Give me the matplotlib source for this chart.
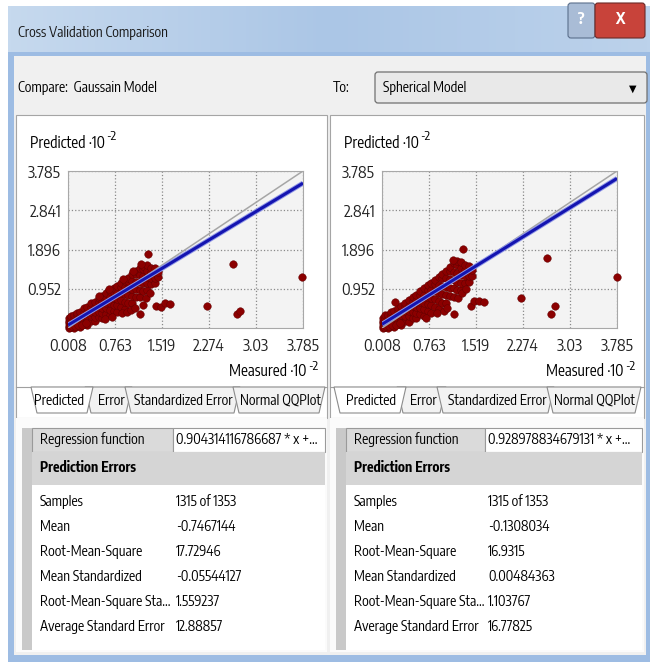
import matplotlib.pyplot as plt
from matplotlib.patches import Rectangle, Polygon, FancyBboxPatch
from matplotlib.colors import LinearSegmentedColormap
import numpy as np

plt.rcParams['font.family'] = ['Encode Sans Condensed', 'DejaVu Sans']

# ---- data (units of 10^-2) ----
x_ticks = [0.008, 0.763, 1.519, 2.274, 3.03, 3.785]
x_tick_labels = ["0.008", "0.763", "1.519", "2.274", "3.03", "3.785"]
y_ticks = [0.952, 1.896, 2.841, 3.785]
y_tick_labels = ["0.952", "1.896", "2.841", "3.785"]

# dense cloud, read column by column: (measured, [predicted...])
gauss_cols = [
    (0.02, [0.01, 0.06, 0.12, 0.18, 0.24]),
    (0.06, [0.04, 0.10, 0.17, 0.24, 0.30]),
    (0.10, [0.02, 0.09, 0.16, 0.24, 0.32]),
    (0.15, [0.06, 0.14, 0.22, 0.31, 0.38]),
    (0.20, [0.03, 0.12, 0.21, 0.30, 0.40]),
    (0.26, [0.10, 0.20, 0.30, 0.40, 0.48]),
    (0.32, [0.09, 0.19, 0.29, 0.40, 0.52]),
    (0.38, [0.18, 0.29, 0.40, 0.52, 0.60]),
    (0.44, [0.17, 0.28, 0.39, 0.51, 0.64]),
    (0.50, [0.27, 0.39, 0.51, 0.63, 0.72]),
    (0.56, [0.25, 0.37, 0.50, 0.63, 0.77]),
    (0.62, [0.34, 0.48, 0.62, 0.76, 0.84]),
    (0.68, [0.31, 0.45, 0.60, 0.75, 0.90]),
    (0.74, [0.42, 0.57, 0.72, 0.88, 0.97]),
    (0.80, [0.39, 0.55, 0.70, 0.86, 1.02]),
    (0.86, [0.51, 0.68, 0.84, 1.00, 1.09]),
    (0.92, [0.47, 0.64, 0.82, 0.99, 1.13]),
    (0.98, [0.61, 0.79, 0.97, 1.14, 1.22]),
    (1.04, [0.60, 0.77, 0.95, 1.13, 1.31]),
    (1.10, [0.75, 0.94, 1.12, 1.30, 1.39]),
    (1.16, [0.75, 0.93, 1.11, 1.29, 1.45]),
    (1.22, [0.91, 1.09, 1.26, 1.42, 1.50]),
    (1.28, [0.92, 1.08, 1.24, 1.38, 1.52]),
    (1.34, [1.07, 1.21, 1.35, 1.46]),
    (1.40, [1.10, 1.22, 1.34, 1.44]),
    (1.45, [1.24, 1.36]),
]
gauss_extra = [(0.04, 0.03), (0.08, 0.05), (0.12, 0.06), (0.17, 0.08), (0.23, 0.08),
               (0.29, 0.13), (0.60, 0.22), (0.72, 0.28), (0.88, 0.36), (0.95, 0.40),
               (1.02, 0.44), (1.08, 0.50), (1.16, 0.35), (1.21, 0.56), (1.26, 0.72),
               (1.32, 0.86), (0.50, 0.78), (0.66, 0.95), (0.90, 1.18), (1.05, 1.38),
               (1.18, 1.55), (1.294, 1.781), (1.428, 0.543), (1.503, 0.503),
               (1.573, 0.607), (1.653, 0.591), (2.242, 0.543), (2.66, 1.549),
               (2.73, 0.351), (2.778, 0.415), (3.77, 1.246)]

sph_cols = [
    (0.02, [0.01, 0.06, 0.12, 0.18, 0.25]),
    (0.06, [0.04, 0.10, 0.17, 0.24, 0.31]),
    (0.10, [0.02, 0.09, 0.16, 0.24, 0.33]),
    (0.15, [0.06, 0.14, 0.23, 0.32, 0.39]),
    (0.20, [0.03, 0.12, 0.22, 0.32, 0.42]),
    (0.26, [0.10, 0.21, 0.31, 0.42, 0.50]),
    (0.32, [0.09, 0.20, 0.31, 0.42, 0.54]),
    (0.38, [0.18, 0.30, 0.42, 0.54, 0.62]),
    (0.44, [0.16, 0.29, 0.41, 0.54, 0.67]),
    (0.50, [0.26, 0.40, 0.53, 0.66, 0.75]),
    (0.56, [0.24, 0.38, 0.52, 0.66, 0.81]),
    (0.62, [0.34, 0.49, 0.64, 0.80, 0.89]),
    (0.68, [0.30, 0.46, 0.62, 0.79, 0.96]),
    (0.74, [0.42, 0.59, 0.76, 0.93, 1.04]),
    (0.80, [0.38, 0.56, 0.74, 0.92, 1.10]),
    (0.86, [0.51, 0.70, 0.89, 1.07, 1.17]),
    (0.92, [0.47, 0.66, 0.86, 1.05, 1.23]),
    (0.98, [0.62, 0.82, 1.02, 1.21, 1.31]),
    (1.04, [0.60, 0.80, 1.00, 1.20, 1.39]),
    (1.10, [0.78, 0.98, 1.18, 1.38, 1.48]),
    (1.16, [0.76, 0.96, 1.16, 1.36, 1.56]),
    (1.22, [0.93, 1.12, 1.32, 1.52, 1.62]),
    (1.28, [0.93, 1.10, 1.28, 1.46, 1.60]),
    (1.34, [1.09, 1.25, 1.41, 1.52]),
    (1.40, [1.12, 1.25, 1.38, 1.50]),
    (1.46, [1.27, 1.40]),
]
sph_extra = [(0.04, 0.03), (0.08, 0.05), (0.12, 0.06), (0.17, 0.08), (0.23, 0.08),
             (0.29, 0.13), (0.22, 0.64), (0.72, 0.26), (0.90, 0.38), (1.00, 0.42),
             (1.06, 0.48), (1.167, 0.351), (1.23, 0.72), (1.30, 0.86), (1.36, 0.95),
             (1.15, 1.65), (1.306, 1.908), (1.44, 0.543), (1.488, 0.647),
             (1.568, 0.663), (1.648, 0.623), (2.236, 0.727), (2.663, 1.701),
             (2.717, 0.351), (2.786, 0.543), (3.78, 1.246)]

gauss_slope, gauss_icpt = 0.904314116786687, 0.07
sph_slope, sph_icpt = 0.928978834679131, 0.09

row_names = ["Samples", "Mean", "Root-Mean-Square", "Mean Standardized",
             "Root-Mean-Square Sta...", "Average Standard Error"]
gauss_vals = ["1315 of 1353", "-0.7467144", "17.72946", "-0.05544127", "1.559237", "12.88857"]
sph_vals = ["1315 of 1353", "-0.1308034", "16.9315", "0.00484363", "1.103767", "16.77825"]
gauss_reg = "0.904314116786687 * x +..."
sph_reg = "0.928978834679131 * x +..."
tab_names = ["Predicted", "Error", "Standardized Error", "Normal QQPlot"]

# ---- canvas in pixel coordinates ----
W, H = 654, 666
fig = plt.figure(figsize=(W / 100, H / 100), dpi=100)
fig.patch.set_facecolor("white")
bg = fig.add_axes([0, 0, 1, 1])


def box(x0, y0, x1, y1, fc, ec="none", lw=1.0, z=1):
    bg.add_patch(Rectangle((x0, y0), x1 - x0, y1 - y0, facecolor=fc,
                           edgecolor=ec, linewidth=lw, zorder=z))


# window frame + title bar
grad = np.linspace(0, 1, 200)[None, :]
bg.imshow(grad, extent=(8, 650, 56, 6), aspect="auto", zorder=0,
          cmap=LinearSegmentedColormap.from_list("tb", ["#c6d9ee", "#abc6e6", "#bcd2eb"]))
box(8, 52, 650, 662, "#9dbce3", z=0)
box(14, 56, 646, 655, "#f0f0f0", z=0.5)
bg.set_xlim(0, W)
bg.set_ylim(H, 0)
bg.axis("off")
bg.text(18, 33, "Cross Validation Comparison", fontsize=10, va="center", color="#1a1a1a")

# title buttons
bg.add_patch(FancyBboxPatch((568, 3), 27, 35, boxstyle="round,pad=0,rounding_size=3",
                            facecolor="#a9bcd6", edgecolor="#5b6f8c", lw=0.8, zorder=2))
bg.add_patch(FancyBboxPatch((595, 3), 50, 35, boxstyle="round,pad=0,rounding_size=3",
                            facecolor="#c8433a", edgecolor="#6b2a28", lw=0.8, zorder=2))
bg.text(581, 20, "?", fontsize=11, fontweight="bold", color="white", ha="center", va="center", zorder=3)
bg.text(620, 20, "X", fontsize=11, fontweight="bold", color="white", ha="center", va="center", zorder=3)

# compare row
bg.text(18, 88, "Compare:  Gaussain Model", fontsize=10, va="center")
bg.text(333, 88, "To:", fontsize=10, va="center")
bg.add_patch(FancyBboxPatch((375, 72), 272, 31, boxstyle="round,pad=0,rounding_size=3",
                            facecolor="#e9e9e9", edgecolor="#707070", lw=0.9, zorder=2))
bg.text(383, 88, "Spherical Model", fontsize=10, va="center", zorder=3)
bg.text(633, 89, "▼", fontsize=7, ha="center", va="center", zorder=3,
        family=["DejaVu Sans"])


def panel(x0, x1, tabs, cols, extra, slope, icpt, reg_text, vals, val_x):
    # panel frame (chart) and table area
    box(x0, 115, x1, 418, "white", ec="#a5a5a5", lw=0.8, z=1)
    box(x0, 418, x1, 652, "#fbfbfb", z=1)

    # tabs
    bg.plot([x0, x1], [387, 387], color="#a0a0a0", lw=0.8, zorder=2)
    for i in [1, 2, 3, 0]:
        xl, xr, cx = tabs[i]
        fc = "white" if i == 0 else "#f2f2f2"
        bg.add_patch(Polygon([(xl, 387), (xr, 387), (xr - 6, 413), (xl + 6, 413)],
                             closed=True, facecolor=fc, edgecolor="#8c8c8c", lw=0.8, zorder=3))
        bg.text(cx, 401, tab_names[i], fontsize=10, ha="center", va="center", zorder=4)

    # table
    strip_x = x0 + 6
    tx0 = strip_x + 10
    box(strip_x, 428, tx0, 650, "#c9c9c9", z=2)
    box(tx0, 428, x1 - 2, 650, "white", z=2)
    box(tx0, 428, val_x - 3, 452, "#dadada", ec="#9a9a9a", lw=0.8, z=3)
    box(val_x - 3, 428, x1 - 2, 452, "white", ec="#9a9a9a", lw=0.8, z=3)
    box(tx0, 452, x1 - 2, 485, "#d5d5d5", z=3)
    bg.text(tx0 + 8, 440, "Regression function", fontsize=10, va="center", zorder=4)
    bg.text(val_x, 440, reg_text, fontsize=10, va="center", zorder=4)
    bg.text(tx0 + 8, 468, "Prediction Errors", fontsize=10, fontweight="bold", va="center", zorder=4)
    for k, (name, v) in enumerate(zip(row_names, vals)):
        y = 502 + 25 * k
        bg.text(tx0 + 8, y, name, fontsize=10, va="center", zorder=4)
        bg.text(val_x, y, v, fontsize=10, va="center", zorder=4)

    # axis titles with raised exponent
    t = bg.text(x0 + 14, 143, "Predicted ·10", fontsize=11, va="center", zorder=4)
    bg.annotate("-2", xy=(1.0, 0.9), xycoords=t, xytext=(1, 0), textcoords="offset points",
                fontsize=9.5, ha="left", va="center", zorder=4)
    e = bg.text(x1 - 9, 366, "-2", fontsize=9.5, ha="right", va="center", zorder=4)
    bg.annotate("Measured ·10", xy=(0.0, 0.05), xycoords=e, xytext=(-1, 0),
                textcoords="offset points", fontsize=11, ha="right", va="center", zorder=4)

    # the chart itself
    ax = fig.add_axes([(x0 + 52) / W, (H - 328) / H, 235 / W, 157 / H])
    ax.set_xlim(0.008, 3.785)
    ax.set_ylim(0.008, 3.785)
    ax.set_facecolor("#f3f3f3")
    for s in ax.spines.values():
        s.set_color("#a8a8a8")
        s.set_linewidth(0.8)
    ax.set_xticks(x_ticks)
    ax.set_xticklabels(x_tick_labels)
    ax.set_yticks(y_ticks)
    ax.set_yticklabels(y_tick_labels)
    ax.tick_params(length=0, labelsize=11.5, colors="#222222")
    ax.tick_params(axis="x", pad=7)
    ax.tick_params(axis="y", pad=5)
    ax.grid(True, ls=":", color="#8a8a8a", lw=0.9)
    ax.set_axisbelow(True)

    mx = [c[0] for c in cols for _ in c[1]] + [p[0] for p in extra]
    my = [y for c in cols for y in c[1]] + [p[1] for p in extra]
    ax.scatter(mx, my, s=30, color="#8b0000", edgecolors="#5a0000", linewidths=0.3,
               zorder=3, clip_on=False)
    line_x = np.array([0.008, 3.785])
    ax.plot(line_x, line_x, color="#a6a6a6", lw=1.1, zorder=4)
    ax.plot(line_x, slope * line_x + icpt, color="#8f96e6", lw=3.6, zorder=5,
            solid_capstyle="butt")
    ax.plot(line_x, slope * line_x + icpt, color="#1414b0", lw=2.2, zorder=6,
            solid_capstyle="butt")


left_tabs = [(31, 93, 59), (85, 132, 111), (125, 240, 183), (233, 325, 280)]
right_tabs = [(334, 406, 371), (397, 446, 423), (437, 554, 497), (547, 641, 594)]

panel(16, 327, left_tabs, gauss_cols, gauss_extra, gauss_slope, gauss_icpt,
      gauss_reg, gauss_vals, 176)
panel(330, 644, right_tabs, sph_cols, sph_extra, sph_slope, sph_icpt,
      sph_reg, sph_vals, 488)

fig.savefig("out.png", dpi=100)
